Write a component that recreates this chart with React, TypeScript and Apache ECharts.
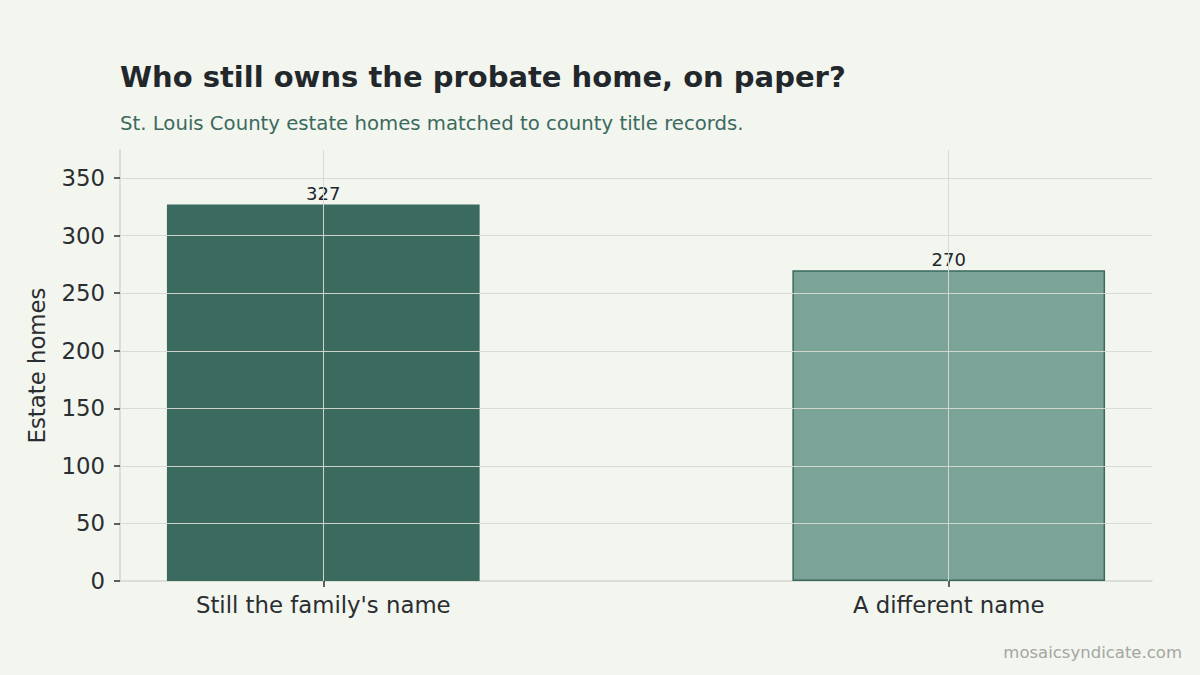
import React, { useEffect, useRef } from "react";
import * as echarts from "echarts";

const categories = ["Still the family's name", "A different name"];
const values = [327, 270];
const barColors = ["#3b6a5e", "#7ba397"];
const yTicks = [0, 50, 100, 150, 200, 250, 300, 350];
const xPositions = [0, 1];

const FONT = "DejaVu Sans";

export default function App() {
  const ref = useRef<HTMLDivElement>(null);
  useEffect(() => {
    const chart = echarts.init(ref.current!, null, { renderer: "svg" });
    const gridColor = "#d3d6cf";
    const option: any = {
      animation: false,
      backgroundColor: "#f3f5ef",
      textStyle: { fontFamily: FONT },
      title: [
        {
          text: "Who still owns the probate home, on paper?",
          left: 115,
          top: 57,
          textStyle: { fontFamily: FONT, fontSize: 29, fontWeight: "bold", color: "#22272b" },
        },
        {
          text: "St. Louis County estate homes matched to county title records.",
          left: 115,
          top: 108,
          textStyle: { fontFamily: FONT, fontSize: 19.7, fontWeight: "normal", color: "#3b6a5e" },
        },
        {
          text: "mosaicsyndicate.com",
          right: 13,
          top: 639,
          textStyle: { fontFamily: FONT, fontSize: 16.5, fontWeight: "normal", color: "#a3a6a1" },
        },
      ],
      grid: { left: 120, right: 48, top: 150, bottom: 94, containLabel: false },
      xAxis: {
        type: "value",
        min: -0.325,
        max: 1.325,
        axisLine: { show: true, onZero: false, lineStyle: { color: gridColor, width: 1.5 } },
        axisTick: {
          show: true,
          customValues: xPositions,
          length: 6,
          lineStyle: { color: "#2a2e31", width: 1.5 },
        },
        axisLabel: {
          customValues: xPositions,
          margin: 12,
          fontSize: 22.8,
          color: "#2a2e31",
          fontFamily: FONT,
          formatter: (v: number) => categories[Math.round(v)] ?? "",
        },
        splitLine: { show: false },
      },
      yAxis: {
        type: "value",
        min: 0,
        max: 374.4,
        name: "Estate homes",
        nameLocation: "middle",
        nameGap: 72,
        nameTextStyle: { fontSize: 22.8, color: "#2a2e31", fontFamily: FONT },
        axisLine: { show: true, onZero: false, lineStyle: { color: gridColor, width: 1.5 } },
        axisTick: {
          show: true,
          customValues: yTicks,
          length: 6,
          lineStyle: { color: "#2a2e31", width: 1.5 },
        },
        axisLabel: {
          customValues: yTicks,
          margin: 15,
          fontSize: 22.8,
          color: "#2a2e31",
          fontFamily: FONT,
        },
        splitLine: { show: false },
      },
      series: [
        {
          type: "bar",
          barWidth: 312.7,
          data: values.map((v, i) => ({
            value: [xPositions[i], v],
            itemStyle: {
              color: barColors[i],
              borderColor: "#3b6a5e",
              borderWidth: i === 0 ? 0 : 1.5,
            },
          })),
          label: {
            show: true,
            position: "top",
            distance: 2,
            fontSize: 18,
            color: "#22272b",
            fontFamily: FONT,
            formatter: (p: any) => String(p.value[1]),
          },
          markLine: {
            silent: true,
            symbol: ["none", "none"],
            z: 5,
            label: { show: false },
            emphasis: { disabled: true },
            lineStyle: { color: "#d6d9d2", width: 1, type: "solid", opacity: 0.95 },
            data: [
              ...yTicks.filter((t) => t > 0).map((t) => ({ yAxis: t })),
              ...xPositions.map((x) => ({ xAxis: x })),
            ],
          },
        },
      ],
    };
    chart.setOption(option);
    return () => chart.dispose();
  }, []);
  return (
    <div
      ref={ref}
      style={{ position: "fixed", left: 0, top: 0, width: 1200, height: 675 }}
    />
  );
}
